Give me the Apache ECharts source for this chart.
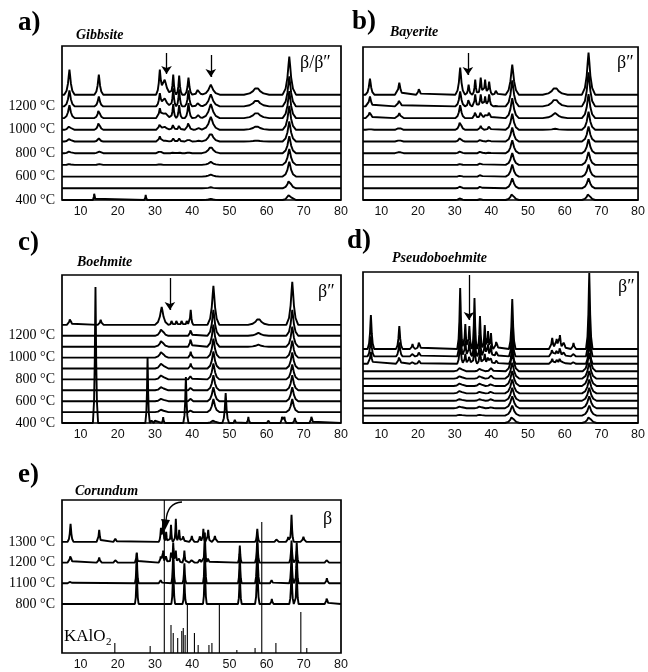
<!DOCTYPE html>
<html>
<head>
<meta charset="utf-8">
<script src="https://cdn.jsdelivr.net/npm/echarts@6/dist/echarts.min.js"></script>
<style>html,body{margin:0;padding:0;background:#fff}#c{width:648px;height:672px}</style>
</head>
<body>
<div id="c"></div>
<script>
// ---------- shared axis ticks ----------
const X_TICKS = [10, 20, 30, 40, 50, 60, 70, 80];

// ---------- a) Gibbsite (traces 400..1300 °C, step 100) ----------
const gibbsiteTemps = ['400 °C', '600 °C', '800 °C', '1000 °C', '1200 °C'];
const gibbsitePos   = [7.0, 13.7, 14.9, 27.5, 31.3, 32.6, 34.9, 36.5, 39.0, 41.6, 45.0, 57.3, 66.1];
const gibbsiteWidth = [1.4, 0.4, 1.2, 0.4, 1.0, 2.2, 0.8, 0.8, 1.0, 1.2, 2.4, 3.4, 1.8];
const gibbsiteHeights = [
  [0, 8, 0, 5, 0, 0, 0, 0, 0, 0, 1, 0, 6],
  [0, 0, 0, 0, 0, 0, 0, 0, 0, 0, 1, 0, 9],
  [0, 0, 0, 0, 0, 0, 0, 0, 0, 0, 2, 0, 15],
  [1, 0, 1, 1, 1, 0, 0, 0, 0, 0, 3, 0, 16],
  [2, 0, 2, 2, 3, 0, 1, 1, 1, 0, 7, 0, 17],
  [3, 0, 3, 0, 5, 1, 3, 3, 3, 1, 9, 1, 20],
  [4, 0, 8, 0, 6, 3, 6, 5, 8, 2, 13, 4, 24],
  [13, 0, 9, 0, 9, 6, 14, 13, 15, 3, 14, 6, 27],
  [16, 0, 10, 0, 12, 8, 18, 17, 16, 4, 12, 7, 30],
  [25, 0, 20, 0, 23, 15, 20, 19, 17, 6, 10, 8, 38]
];

// ---------- b) Bayerite ----------
const bayeritePos   = [6.9, 14.9, 20.3, 31.5, 33.8, 35.6, 37.1, 38.3, 39.4, 41.3, 45.7, 57.4, 66.5];
const bayeriteWidth = [1.2, 1.2, 0.8, 1.3, 0.8, 0.8, 0.9, 0.8, 0.9, 0.8, 1.8, 3.4, 1.8];
const bayeriteHeights = [
  [0, 0, 0, 2, 0, 0, 2, 0, 0, 0, 7, 0, 7],
  [0, 0, 0, 2, 0, 0, 3, 0, 0, 0, 10, 0, 10],
  [0, 0, 0, 1, 0, 0, 3, 0, 0, 0, 12, 0, 12],
  [0, 0, 0, 1, 0, 0, 3, 0, 0, 0, 12, 0, 13],
  [0, 2, 0, 2, 0, 0, 3, 0, 1, 0, 13, 0, 14],
  [0, 2, 0, 4, 0, 0, 3, 0, 2, 0, 14, 0, 15],
  [1, 3, 0, 9, 0, 0, 4, 0, 4, 0, 16, 1, 18],
  [7, 5, 0, 13, 0, 7, 7, 3, 7, 0, 20, 5, 24],
  [10, 7, 0, 15, 8, 12, 12, 10, 12, 1, 26, 8, 34],
  [16, 12, 7, 27, 10, 15, 17, 15, 13, 5, 30, 8, 42]
];

// ---------- c) Boehmite ----------
const boehmiteTemps = ['400 °C', '600 °C', '800 °C', '1000 °C', '1200 °C'];
const boehmitePos   = [7.2, 14.0, 15.4, 28.0, 29.1, 30.0, 31.8, 32.2, 34.5, 35.8, 37.2, 38.3, 38.6, 39.6, 45.7, 49.0, 51.5, 55.1, 57.8, 60.5, 64.2, 64.8, 66.9, 67.6, 72.1];
const boehmiteWidth = [0.9, 0.7, 0.8, 0.6, 0.3, 0.3, 1.8, 0.4, 0.6, 0.6, 0.6, 0.7, 0.6, 0.7, 1.6, 0.9, 0.4, 0.5, 2.8, 0.4, 0.5, 0.5, 1.6, 0.6, 0.6];
const boehmiteHeights = [
  [0, 136, 0, 66, 3, 3, 0, 6, 0, 0, 0, 46, 0, 0, 3, 30, 4, 6, 0, 3, 8, 6, 0, 5, 8],
  [0, 0, 0, 0, 0, 0, 3, 0, 0, 0, 0, 0, 0, 2, 13, 0, 0, 0, 0, 0, 0, 0, 13, 0, 0],
  [0, 0, 0, 0, 0, 0, 3, 0, 0, 0, 0, 0, 0, 3, 14, 0, 0, 0, 0, 0, 0, 0, 14, 0, 0],
  [0, 0, 0, 0, 0, 0, 4, 0, 0, 0, 0, 0, 0, 3, 15, 0, 0, 0, 0, 0, 0, 0, 15, 0, 0],
  [0, 0, 0, 0, 0, 0, 5, 0, 0, 0, 0, 0, 0, 4, 16, 0, 0, 0, 0, 0, 0, 0, 15, 0, 0],
  [0, 0, 0, 0, 0, 0, 6, 0, 0, 0, 0, 0, 0, 5, 17, 0, 0, 0, 0, 0, 0, 0, 16, 0, 0],
  [0, 0, 0, 0, 0, 0, 7, 0, 0, 0, 0, 0, 0, 6, 19, 0, 0, 0, 0, 0, 0, 0, 17, 0, 0],
  [0, 0, 0, 0, 0, 0, 7, 0, 0, 0, 0, 0, 0, 9, 22, 0, 0, 0, 2, 0, 0, 0, 20, 0, 0],
  [0, 0, 0, 0, 0, 0, 8, 0, 0, 0, 0, 0, 0, 7, 26, 0, 0, 0, 3, 0, 0, 0, 26, 0, 0],
  [7, 0, 5, 0, 0, 0, 18, 0, 5, 5, 5, 0, 5, 15, 39, 0, 0, 0, 7, 0, 0, 0, 43, 0, 0]
];

// ---------- d) Pseudoboehmite ----------
const pseudoPos   = [7.15, 14.9, 18.5, 20.3, 31.5, 32.9, 34.0, 35.4, 36.9, 38.2, 39.1, 39.9, 41.4, 45.7, 56.6, 57.8, 58.7, 59.8, 62.4, 66.7];
const pseudoWidth = [0.9, 0.9, 0.7, 0.8, 0.8, 0.7, 0.7, 0.7, 0.7, 0.7, 0.6, 0.6, 0.8, 0.9, 0.9, 0.9, 0.8, 0.8, 0.7, 0.9];
const pseudoBroadening = [2.2, 2.2, 2.2, 2.2, 2.2, 2.2, 2.1, 2.0, 1.0, 1.0, 1.0];
const pseudoHeights = [
  [0, 0, 0, 0, 0, 0, 0, 0, 0, 0, 0, 0, 0, 7, 0, 0, 0, 0, 0, 7],
  [0, 0, 0, 0, 1, 0, 0, 0, 1, 0, 0, 0, 0, 10, 0, 0, 0, 0, 0, 10],
  [0, 0, 0, 0, 2, 0, 0, 0, 2, 0, 0, 1, 0, 12, 0, 0, 0, 0, 0, 12],
  [0, 0, 0, 0, 2, 0, 0, 0, 2, 0, 0, 2, 0, 13, 0, 0, 0, 0, 0, 13],
  [0, 0, 0, 0, 3, 0, 0, 0, 2, 0, 0, 2, 0, 14, 0, 0, 0, 0, 0, 14],
  [0, 0, 0, 0, 3, 0, 0, 0, 3, 0, 0, 2, 0, 15, 0, 0, 0, 0, 0, 15],
  [0, 0, 0, 0, 3, 0, 0, 0, 3, 0, 0, 3, 0, 16, 0, 0, 0, 0, 0, 16],
  [0, 0, 0, 0, 4, 0, 0, 0, 3, 0, 0, 3, 0, 18, 0, 0, 0, 0, 0, 18],
  [12, 8, 2, 3, 25, 10, 9, 20, 14, 10, 8, 7, 4, 22, 5, 4, 6, 3, 2, 30],
  [20, 14, 3, 5, 40, 16, 15, 33, 22, 16, 12, 11, 6, 32, 8, 7, 10, 5, 3, 50],
  [34, 23, 5, 8, 61, 25, 23, 51, 33, 24, 18, 16, 9, 50, 11, 10, 14, 8, 6, 76]
];

// ---------- e) Corundum (800, 1100, 1200, 1300 °C) + KAlO2 sticks ----------
const corundumTemps = ['800 °C', '1100 °C', '1200 °C', '1300 °C'];
const corundumPos   = [7.3, 15.0, 19.4, 25.1, 31.6, 32.2, 33.0, 34.3, 34.9, 35.6, 36.5, 37.6, 37.9, 39.9, 42.1, 43.0, 43.4, 44.3, 46.1, 52.8, 57.5, 61.4, 62.7, 65.8, 66.7, 68.1, 69.9, 76.2];
const corundumWidth = [0.8, 0.7, 0.6, 0.5, 0.6, 0.5, 0.5, 0.5, 0.5, 0.5, 0.5, 0.6, 0.5, 0.7, 0.6, 0.5, 0.5, 0.6, 0.8, 0.5, 0.6, 0.5, 0.6, 0.6, 0.6, 0.5, 0.8, 0.6];
const corundumHeights = [
  [0, 0, 0, 40, 0, 0, 0, 0, 44, 0, 0, 0, 25, 0, 0, 0, 48, 0, 0, 35, 45, 5, 0, 0, 35, 38, 0, 7],
  [3, 0, 0, 30, 4, 0, 0, 0, 35, 0, 0, 0, 20, 0, 0, 0, 40, 0, 0, 30, 40, 4, 0, 0, 30, 32, 0, 5],
  [8, 5, 3, 10, 8, 12, 8, 10, 20, 12, 5, 0, 12, 3, 4, 0, 30, 5, 0, 17, 25, 0, 0, 0, 22, 20, 0, 3],
  [18, 12, 4, 0, 14, 22, 10, 17, 0, 23, 12, 7, 0, 6, 7, 13, 0, 12, 6, 0, 13, 0, 3, 5, 27, 0, 5, 0]
];
const kalo2Pos = [19.2, 28.7, 32.5, 34.3, 34.9, 36.1, 37.2, 37.6, 38.1, 38.7, 40.6, 41.6, 44.5, 45.3, 47.3, 52.0, 56.9, 58.7, 62.5, 69.2, 70.8];
const kalo2Int = [10, 7, 153, 28, 20, 15, 22, 25, 18, 48, 20, 8, 8, 10, 48, 3, 5, 131, 10, 41, 5];

// ---------- peak profile (fixed rounded-cusp shape) ----------
const PROFILE = [[0, 1], [0.12, 0.78], [0.28, 0.45], [0.55, 0.16], [1, 0]];
function shape(t) {
  t = Math.abs(t);
  if (t >= 1) return 0;
  for (let k = 0; k < PROFILE.length - 1; k++) {
    const [t0, v0] = PROFILE[k], [t1, v1] = PROFILE[k + 1];
    if (t <= t1) return v0 + (v1 - v0) * (t - t0) / (t1 - t0);
  }
  return 0;
}
function buildTrace(pos, width, heights, base, ws) {
  const peaks = [];
  pos.forEach((p, j) => { if (heights[j] > 0) peaks.push([p, heights[j], width[j] * ws]); });
  const xs = new Set([5, 80]);
  const ks = [];
  PROFILE.forEach(([t]) => { ks.push(t); if (t > 0) ks.push(-t); });
  peaks.forEach(([p, h, w]) => ks.forEach(k => {
    const x = p + k * w; if (x >= 5 && x <= 80) xs.add(+x.toFixed(4));
  }));
  return [...xs].sort((a, b) => a - b).map(x =>
    [x, base + peaks.reduce((s, [p, h, w]) => s + h * shape((x - p) / w), 0)]);
}

// ---------- layout ----------
const panels = [
  { grid: { left: 62, top: 46, width: 279, height: 154 }, pos: gibbsitePos, width: gibbsiteWidth, heights: gibbsiteHeights,
    offsets: gibbsiteHeights.map((_, i) => i * 11.7), labels: gibbsiteTemps, labelIdx: [0, 2, 4, 6, 8],
    arrows: [[33.1, 147, 126], [45.0, 145, 123]] },
  { grid: { left: 363, top: 47, width: 279, height: 153 }, pos: bayeritePos, width: bayeriteWidth, heights: bayeriteHeights,
    offsets: bayeriteHeights.map((_, i) => i * 11.7), labels: null,
    arrows: [[33.6, 147, 125]] },
  { grid: { left: 62, top: 275, width: 279, height: 148 }, pos: boehmitePos, width: boehmiteWidth, heights: boehmiteHeights,
    offsets: boehmiteHeights.map((_, i) => i * 10.9), labels: boehmiteTemps, labelIdx: [0, 2, 4, 6, 8],
    arrows: [[34.0, 145, 113]] },
  { grid: { left: 363, top: 272, width: 279, height: 151 }, pos: pseudoPos, width: pseudoWidth, heights: pseudoHeights,
    broad: pseudoBroadening, offsets: pseudoHeights.map((_, i) => i * 7.4), labels: null,
    arrows: [[33.9, 148, 103]] },
  { grid: { left: 62, top: 500, width: 279, height: 153 }, pos: corundumPos, width: corundumWidth, heights: corundumHeights,
    offsets: corundumHeights.map((_, i) => 49 + i * 20.7), labels: corundumTemps, labelIdx: [0, 1, 2, 3],
    arrows: [] }
];

const grids = [], xAxes = [], yAxes = [], series = [];
panels.forEach((P, k) => {
  grids.push(Object.assign({ show: true, borderColor: '#000', borderWidth: 1.7 }, P.grid));
  xAxes.push({
    type: 'value', gridIndex: k, min: 5, max: 80,
    axisLine: { show: false }, axisTick: { show: false }, splitLine: { show: false },
    axisLabel: { customValues: X_TICKS, margin: 5, fontSize: 12.5, color: '#111', fontFamily: 'Liberation Sans' }
  });
  const labelVals = P.labels ? P.labelIdx.map(i => P.offsets[i]) : [];
  yAxes.push({
    type: 'value', gridIndex: k, min: 0, max: P.grid.height,
    axisLine: { show: false }, axisTick: { show: false }, splitLine: { show: false },
    axisLabel: {
      show: !!P.labels, customValues: labelVals, margin: 7, fontSize: 14, color: '#000',
      fontFamily: 'Liberation Serif',
      formatter: v => { const j = labelVals.findIndex(u => Math.abs(u - v) < 0.01); return j >= 0 ? P.labels[j] : ''; }
    }
  });
  P.heights.forEach((row, i) => {
    const s = {
      type: 'line', xAxisIndex: k, yAxisIndex: k, silent: true, symbol: 'none', showSymbol: false,
      data: buildTrace(P.pos, P.width, row, P.offsets[i], P.broad ? P.broad[i] : 1),
      lineStyle: { color: '#000', width: 1.9 }, z: 2
    };
    if (i === P.heights.length - 1 && P.arrows.length) {
      s.markLine = {
        silent: true, symbol: ['none', 'arrow'], symbolSize: 8, animation: false,
        lineStyle: { color: '#000', width: 1.3, type: 'solid' },
        label: { show: false },
        data: P.arrows.map(([x, y0, y1]) => [{ coord: [x, y0] }, { coord: [x, y1] }])
      };
    }
    series.push(s);
  });
});
// KAlO2 reference sticks (panel e)
series.push({
  type: 'bar', xAxisIndex: 4, yAxisIndex: 4, silent: true, barWidth: 1.1,
  data: kalo2Pos.map((p, i) => [p, kalo2Int[i]]), itemStyle: { color: '#000' }, z: 1
});

const serif = '"Liberation Serif", "DejaVu Serif", serif';
function txt(text, left, top, font) {
  return { type: 'text', left, top, silent: true, style: { text, font, fill: '#000' } };
}
const graphic = [
  txt('a)', 18, 10, 'bold 27px ' + serif),
  txt('b)', 352, 9, 'bold 27px ' + serif),
  txt('c)', 18, 230, 'bold 27px ' + serif),
  txt('d)', 347, 228, 'bold 27px ' + serif),
  txt('e)', 18, 462, 'bold 27px ' + serif),
  txt('Gibbsite', 76, 28, 'italic bold 14px ' + serif),
  txt('Bayerite', 390, 25, 'italic bold 14px ' + serif),
  txt('Boehmite', 77, 255, 'italic bold 14px ' + serif),
  txt('Pseudoboehmite', 392, 251, 'italic bold 14px ' + serif),
  txt('Corundum', 75, 484, 'italic bold 14px ' + serif),
  txt('β/β″', 300, 54, '18px ' + serif),
  txt('β″', 617, 54, '18px ' + serif),
  txt('β″', 318, 283, '18px ' + serif),
  txt('β″', 618, 278, '18px ' + serif),
  txt('β', 323, 510, '18px ' + serif),
  txt('KAlO', 64, 628, '17px ' + serif),
  txt('2', 106, 637, '11px ' + serif),
  // curved annotation arrow in panel e
  { type: 'bezierCurve', silent: true, z: 10,
    shape: { x1: 182, y1: 502, cpx1: 167, cpy1: 503, x2: 166, y2: 521 },
    style: { stroke: '#000', lineWidth: 1.3, fill: null } },
  { type: 'polygon', silent: true, z: 10,
    shape: { points: [[165, 530], [161, 519], [170, 520]] },
    style: { fill: '#000' } }
];

const chart = echarts.init(document.getElementById('c'), null, { renderer: 'canvas' });
chart.setOption({
  backgroundColor: '#fff', animation: false,
  grid: grids, xAxis: xAxes, yAxis: yAxes, series, graphic
});
</script>
</body>
</html>
